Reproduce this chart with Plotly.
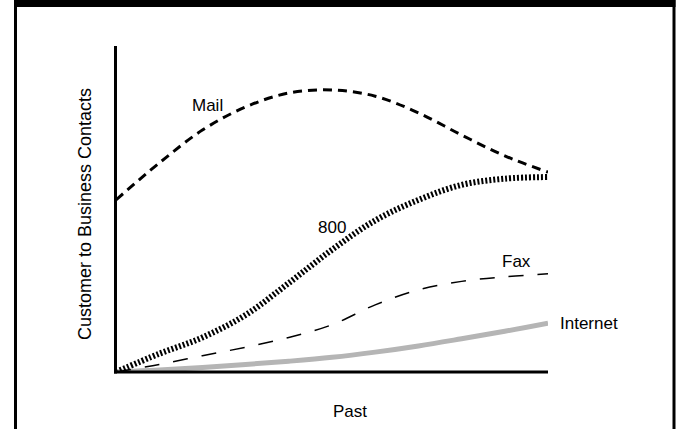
import plotly.graph_objects as go

# ---- data (time index 0..100, contacts index 0..100) ----
time_pts = [0, 10, 20, 30, 40, 50, 60, 70, 80, 90, 100]
mail = [52.8, 64.1, 74.2, 81.3, 85.6, 86.5, 84.6, 79.5, 72.7, 66.3, 61.3]
toll_free_800 = [0.0, 5.6, 10.6, 17.5, 27.3, 37.5, 46.5, 52.8, 57.4, 59.3, 59.8]
fax = [0.0, 2.3, 5.0, 7.6, 10.6, 14.5, 20.6, 25.2, 27.8, 29.2, 30.1]
internet = [0.0, 0.6, 1.4, 2.3, 3.3, 4.5, 6.1, 8.0, 10.2, 12.5, 15.0]

labels = ["Mail", "800", "Fax", "Internet"]
x_title = "Past"
y_title = "Customer to Business Contacts"

W, H = 677, 429
L, R, T, B = 116, 548, 46, 372  # plot area in pixels

def px(xp):
    return (xp - L) / (R - L)

def py(yp):
    return (B - yp) / (B - T)

FONT = "Liberation Sans, Arial, sans-serif"

fig = go.Figure()
fig.add_trace(go.Scatter(x=time_pts, y=internet, mode="lines",
                         line=dict(color="#b5b5b5", width=5, shape="spline"),
                         name=labels[3]))
fig.add_trace(go.Scatter(x=time_pts, y=fax, mode="lines",
                         line=dict(color="black", width=1.5, dash="15px,14px", shape="spline"),
                         name=labels[2]))
fig.add_trace(go.Scatter(x=time_pts, y=toll_free_800, mode="lines",
                         line=dict(color="black", width=6, dash="2px,2px", shape="spline"),
                         name=labels[1]))
fig.add_trace(go.Scatter(x=time_pts, y=mail, mode="lines",
                         line=dict(color="black", width=3, dash="9px,6px", shape="spline"),
                         name=labels[0]))

annos = []
def add_label(text, xp, yp, xanchor="center", family=FONT, angle=0, size=17):
    annos.append(dict(text=text, x=px(xp), y=py(yp), xref="paper", yref="paper",
                      showarrow=False, xanchor=xanchor, yanchor="middle",
                      textangle=angle, font=dict(family=family, size=size, color="black")))

add_label(labels[0], 207.5, 105.5)
add_label(labels[1], 332, 227)
add_label(labels[2], 516, 261)
add_label(labels[3], 558, 323, xanchor="left")
add_label(x_title, 350, 411, family="Liberation Sans Narrow, Liberation Sans, Arial")
add_label(y_title, 85, 214, angle=-90, size=18)

shapes = []
# axis lines
shapes.append(dict(type="line", xref="paper", yref="paper",
                   x0=px(115.5), x1=px(115.5), y0=py(46), y1=py(373.5),
                   line=dict(color="black", width=3)))
shapes.append(dict(type="line", xref="paper", yref="paper",
                   x0=px(114), x1=px(548), y0=py(372), y1=py(372),
                   line=dict(color="black", width=3)))
# frame
shapes.append(dict(type="rect", xref="paper", yref="paper",
                   x0=px(14), x1=px(675.5), y0=py(7), y1=py(-2),
                   fillcolor="black", line=dict(width=0)))
shapes.append(dict(type="line", xref="paper", yref="paper",
                   x0=px(15.5), x1=px(15.5), y0=py(0), y1=py(440),
                   line=dict(color="black", width=3)))
shapes.append(dict(type="line", xref="paper", yref="paper",
                   x0=px(674), x1=px(674), y0=py(0), y1=py(440),
                   line=dict(color="black", width=3)))

fig.update_layout(
    width=W, height=H,
    margin=dict(l=L, r=W - R, t=T, b=H - B, pad=0),
    paper_bgcolor="white", plot_bgcolor="white",
    showlegend=False,
    xaxis=dict(range=[0, 100], visible=False, fixedrange=True),
    yaxis=dict(range=[0, 100], visible=False, fixedrange=True),
    annotations=annos, shapes=shapes,
)
fig.update_traces(cliponaxis=False)

fig.write_html("out.html", config={"displayModeBar": False},
               post_script="document.body.style.margin='0';document.body.style.overflow='hidden';")
